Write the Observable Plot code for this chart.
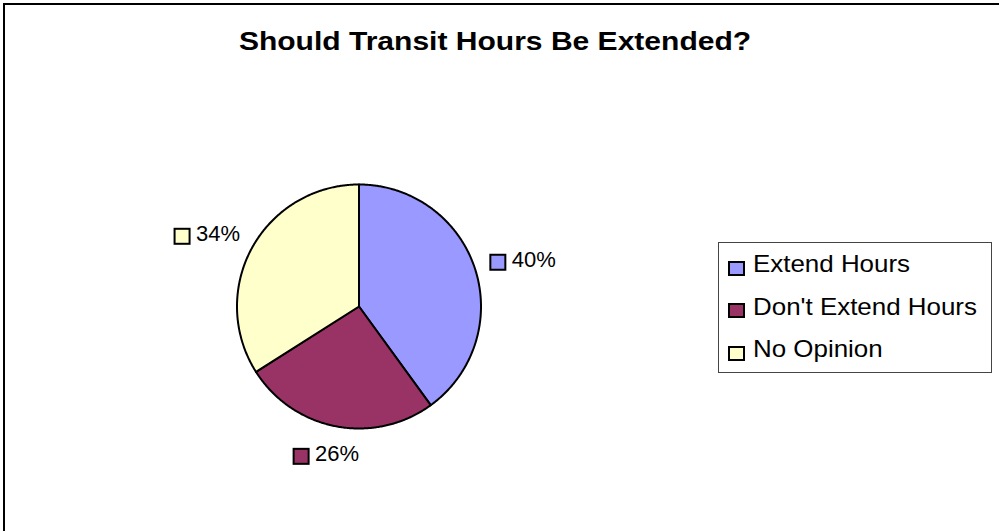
<!DOCTYPE html>
<html>
<head>
<meta charset="utf-8">
<script src="https://cdn.jsdelivr.net/npm/d3@7"></script>
<script src="https://cdn.jsdelivr.net/npm/@observablehq/plot@0.6"></script>
<style>
  html, body { margin: 0; padding: 0; background: #fff; }
  #wrap { position: relative; width: 999px; height: 531px; overflow: hidden; background: #fff;
          font-family: "Liberation Sans", Arial, sans-serif; }
  #plot { position: absolute; left: 0; top: 0; }
  #frame { position: absolute; left: 3px; top: 3px; width: 2000px; height: 2000px;
           border-left: 2px solid #000; border-top: 2px solid #000; }
  #title { position: absolute; left: 0; top: 28px; width: 990px; text-align: center;
           font-size: 26px; line-height: 26px; font-weight: bold; color: #000;
           transform: scaleX(1.155); transform-origin: 495px 0; white-space: nowrap; }
  #legend { position: absolute; left: 718px; top: 242px; width: 274px; height: 131px;
            box-sizing: border-box; border: 1px solid #444; background: #fff; }
  .key { position: absolute; box-sizing: border-box; width: 17px; height: 15px; border: 2px solid #000; }
  .ltxt { position: absolute; font-size: 24px; line-height: 24px; color: #000; white-space: nowrap;
          transform: scaleX(1.08); transform-origin: 0 0; }
</style>
</head>
<body>
<div id="wrap">
  <div id="plot"></div>
  <div id="title"></div>
  <div id="legend"></div>
  <div id="frame"></div>
</div>
<script>
// ---- data ----
const chartTitle = "Should Transit Hours Be Extended?";
const categories = ["Extend Hours", "Don't Extend Hours", "No Opinion"];
const values = [40, 26, 34];
const percentLabels = ["40%", "26%", "34%"];
const colors = ["#9999FF", "#993366", "#FFFFCC"];

// ---- layout (pixel units; 1 scale unit = 1 px, pie centred at 0,0) ----
const R = 122;
const W = 999, H = 531;
const centerX = 358.5, centerY = 306;

const arcs = d3.pie().sort(null).value(d => d)(values);

// slice outlines sampled along each arc
const slicePts = [];
arcs.forEach((a, i) => {
  slicePts.push({k: i, x: 0, y: 0});
  const n = Math.max(2, Math.ceil((a.endAngle - a.startAngle) / (Math.PI / 360)));
  for (let j = 0; j <= n; j++) {
    const t = a.startAngle + (a.endAngle - a.startAngle) * j / n;
    slicePts.push({k: i, x: R * Math.sin(t), y: -R * Math.cos(t)});
  }
  slicePts.push({k: i, x: 0, y: 0});
});

// outside-end data labels
const groupW = 15 + 6 + 44, groupH = 20;
const labelRows = arcs.map((a, i) => {
  const mid = (a.startAngle + a.endAngle) / 2;
  const s = Math.sin(mid), c = Math.cos(mid);
  const pr = 1.15 * R;
  const gcx = pr * s + s * groupW / 2;
  const gcy = -pr * c - c * groupH / 2;
  const left = gcx - groupW / 2;
  return {
    i, label: percentLabels[i], color: colors[i],
    x1: left, x2: left + 15, y1: gcy + 2.7 - 7.5, y2: gcy + 2.7 + 7.5,
    tx: left + 21, ty: gcy
  };
});

const chart = Plot.plot({
  width: W, height: H,
  margin: 0,
  style: {background: "transparent", fontFamily: "'Liberation Sans', Arial, sans-serif"},
  x: {domain: [-centerX, W - centerX], range: [0, W], axis: null},
  y: {domain: [-centerY, H - centerY], range: [0, H], axis: null},
  color: {type: "identity"},
  marks: [
    Plot.line(slicePts, {x: "x", y: "y", z: "k", fill: d => colors[d.k],
                         stroke: "#000", strokeWidth: 2, strokeLinejoin: "round"}),
    Plot.rect(labelRows, {x1: "x1", x2: "x2", y1: "y1", y2: "y2", fill: "color",
                          stroke: "#000", strokeWidth: 2}),
    Plot.text(labelRows, {x: "tx", y: "ty", text: "label", textAnchor: "start",
                          fontSize: 22, fill: "#000"})
  ]
});
document.getElementById("plot").appendChild(chart);

// title
document.getElementById("title").textContent = chartTitle;

// legend (HTML, positioned on the page)
const wrap = document.getElementById("wrap");
const legendRowTop = 260.5, legendRowStep = 42.5;
categories.forEach((cat, i) => {
  const key = document.createElement("div");
  key.className = "key";
  key.style.left = "728px";
  key.style.top = (legendRowTop + i * legendRowStep) + "px";
  key.style.background = colors[i];
  wrap.appendChild(key);
  const t = document.createElement("div");
  t.className = "ltxt";
  t.style.left = "753px";
  t.style.top = (legendRowTop + i * legendRowStep - 8.5) + "px";
  t.textContent = cat;
  wrap.appendChild(t);
});
// keep frame on top
wrap.appendChild(document.getElementById("frame"));
</script>
</body>
</html>
